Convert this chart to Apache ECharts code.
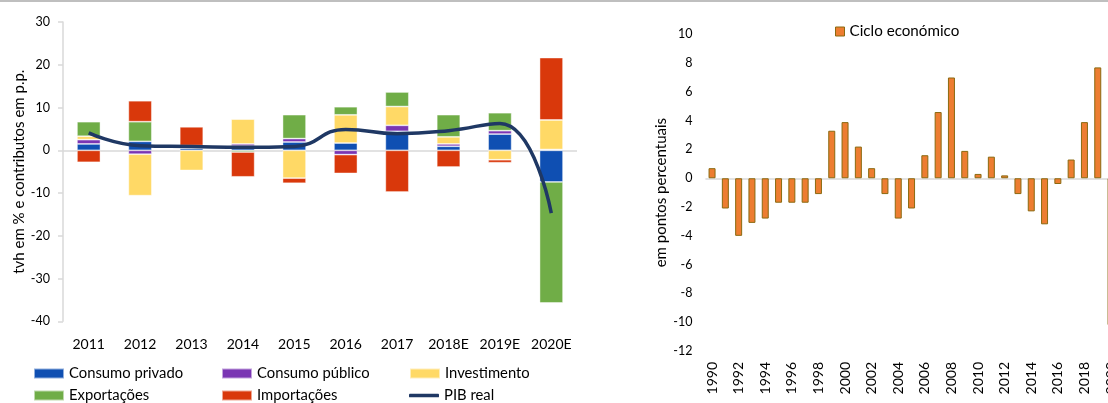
<!DOCTYPE html>
<html>
<head>
<meta charset="utf-8">
<script src="https://cdn.jsdelivr.net/npm/echarts@6/dist/echarts.min.js"></script>
<style>
  html, body { margin: 0; padding: 0; background: #fff; }
  #chart { width: 1108px; height: 403px; }
</style>
</head>
<body>
<div id="chart"></div>
<script>
// Contributions to real GDP growth (p.p.) and real GDP growth (%)
const categories = ['2011', '2012', '2013', '2014', '2015', '2016', '2017', '2018E', '2019E', '2020E'];
const consumoPrivado = [1.5, 2.1, 0.5, 1.0, 1.95, 1.7, 4.45, 0.95, 3.8, -7.4];
const consumoPublico = [1.0, -0.9, 0.1, 0.5, 0.8, -1.0, 1.4, 0.55, 0.8, 0.2];
const investimento = [0.8, -9.7, -4.7, 5.8, -6.5, 6.6, 4.4, 1.65, -2.2, 6.9];
const exportacoes = [3.4, 4.6, 0.5, -0.4, 5.6, 1.9, 3.4, 5.2, 4.2, -28.3];
const importacoes = [-2.8, 4.9, 4.4, -5.8, -1.2, -4.4, -9.75, -3.9, -0.7, 14.6];
const pibReal = [4.1, 1.1, 0.9, 0.7, 0.9, 4.9, 3.9, 4.6, 6.3, -14.7];

// Business cycle (percentage points)
const anos = ['1990', '1991', '1992', '1993', '1994', '1995', '1996', '1997', '1998', '1999',
  '2000', '2001', '2002', '2003', '2004', '2005', '2006', '2007', '2008', '2009',
  '2010', '2011', '2012', '2013', '2014', '2015', '2016', '2017', '2018', '2019', '2020'];
const cicloEconomico = [0.7, -2.1, -4.0, -3.1, -2.8, -1.7, -1.7, -1.7, -1.1, 3.3,
  3.9, 2.2, 0.7, -1.1, -2.8, -2.1, 1.6, 4.6, 7.0, 1.9,
  0.3, 1.5, 0.2, -1.1, -2.3, -3.2, -0.4, 1.3, 3.9, 7.7, -10.2];

const FONT = 'Lato';
const TXT = '#000';
const colors = {
  'Consumo privado': '#0f4fb2',
  'Consumo público': '#7a35b3',
  'Investimento': '#ffd966',
  'Exportações': '#70ad47',
  'Importações': '#d9380b',
  'PIB real': '#1f3864'
};

const barSeries = [
  ['Consumo privado', consumoPrivado],
  ['Consumo público', consumoPublico],
  ['Investimento', investimento],
  ['Exportações', exportacoes],
  ['Importações', importacoes]
].map(([name, data], i) => ({
  name,
  type: 'bar',
  stack: 'contrib',
  xAxisIndex: 0,
  yAxisIndex: 0,
  barWidth: 23.5,
  data,
  itemStyle: { color: colors[name], borderColor: 'rgba(255,255,255,0.55)', borderWidth: 0.8 },
  markLine: i === 0 ? {
    silent: true,
    symbol: 'none',
    label: { show: false },
    lineStyle: { color: '#d9d9d9', type: 'solid', width: 1.5 },
    data: [{ yAxis: 0 }],
    z: 1
  } : undefined
}));

function legendAt(name, left, top, extra) {
  return Object.assign({
    data: [name],
    left, top,
    padding: 0,
    itemWidth: 30,
    itemHeight: 10,
    icon: 'rect',
    selectedMode: false,
    textStyle: { fontFamily: FONT, fontSize: 14.8, color: TXT }
  }, extra || {});
}

const option = {
  animation: false,
  backgroundColor: '#fff',
  graphic: [
    { type: 'rect', shape: { x: 0, y: 0, width: 1108, height: 2 }, style: { fill: '#bfbfbf' }, silent: true }
  ],
  legend: [
    legendAt('Consumo privado', 33, 366),
    legendAt('Consumo público', 221, 366),
    legendAt('Investimento', 409, 366),
    legendAt('Exportações', 33, 388),
    legendAt('Importações', 221, 388),
    legendAt('PIB real', 409, 388, { data: [{ name: 'PIB real', icon: 'roundRect' }], itemHeight: 3.5 }),
    {
      data: ['Ciclo económico'],
      left: 835, top: 24,
      padding: 0,
      itemWidth: 9, itemHeight: 9,
      icon: 'rect',
      selectedMode: false,
      itemStyle: { borderColor: '#8a6a10', borderWidth: 1 },
      textStyle: { fontFamily: FONT, fontSize: 15.2, color: TXT }
    }
  ],
  grid: [
    { left: 63, top: 22.1, width: 514, height: 299.2, outerBoundsMode: 'none' },
    { left: 705.4, top: 34.3, width: 412.3, height: 316.7, outerBoundsMode: 'none' }
  ],
  xAxis: [
    {
      type: 'category',
      gridIndex: 0,
      data: categories,
      axisLine: { show: false, onZero: false },
      axisTick: { show: false },
      axisLabel: { fontFamily: FONT, fontSize: 14, color: TXT, margin: 16, interval: 0 }
    },
    {
      type: 'category',
      gridIndex: 1,
      data: anos,
      axisLine: { show: false, onZero: false },
      axisTick: { show: false },
      axisLabel: { fontFamily: FONT, fontSize: 14, color: TXT, margin: 11, rotate: 90, interval: 1 }
    }
  ],
  yAxis: [
    {
      type: 'value',
      gridIndex: 0,
      min: -40, max: 30, interval: 10,
      name: 'tvh em % e contributos em p.p.',
      nameLocation: 'middle',
      nameGap: 32,
      nameTextStyle: { fontFamily: FONT, fontSize: 15, color: TXT },
      axisLine: { show: true, lineStyle: { color: '#d9d9d9', width: 1.5 } },
      axisTick: { show: true, length: 5, lineStyle: { color: '#d9d9d9', width: 1.5 } },
      axisLabel: { fontFamily: FONT, fontSize: 12.5, color: TXT, margin: 13 },
      splitLine: { show: false }
    },
    {
      type: 'value',
      gridIndex: 1,
      min: -12, max: 10, interval: 2,
      name: 'em pontos percentuais',
      nameLocation: 'middle',
      nameGap: 37,
      nameTextStyle: { fontFamily: FONT, fontSize: 15, color: TXT },
      axisLine: { show: false },
      axisTick: { show: false },
      axisLabel: { fontFamily: FONT, fontSize: 12.5, color: TXT, margin: 13 },
      splitLine: { show: false }
    }
  ],
  series: [
    ...barSeries,
    {
      name: 'PIB real',
      type: 'line',
      xAxisIndex: 0,
      yAxisIndex: 0,
      data: pibReal,
      smooth: true,
      symbol: 'none',
      z: 5,
      itemStyle: { color: colors['PIB real'] },
      lineStyle: { color: colors['PIB real'], width: 3.5 }
    },
    {
      name: 'Ciclo económico',
      type: 'bar',
      xAxisIndex: 1,
      yAxisIndex: 1,
      barWidth: 7,
      data: cicloEconomico,
      itemStyle: { color: '#ed7d31', borderColor: '#8a6a10', borderWidth: 1 },
      markLine: {
        silent: true,
        symbol: 'none',
        label: { show: false },
        lineStyle: { color: '#d9d9d9', type: 'solid', width: 1.5 },
        data: [{ yAxis: 0 }],
        z: 1
      }
    }
  ]
};

const chart = echarts.init(document.getElementById('chart'), null, { renderer: 'canvas' });
chart.setOption(option);
</script>
</body>
</html>
